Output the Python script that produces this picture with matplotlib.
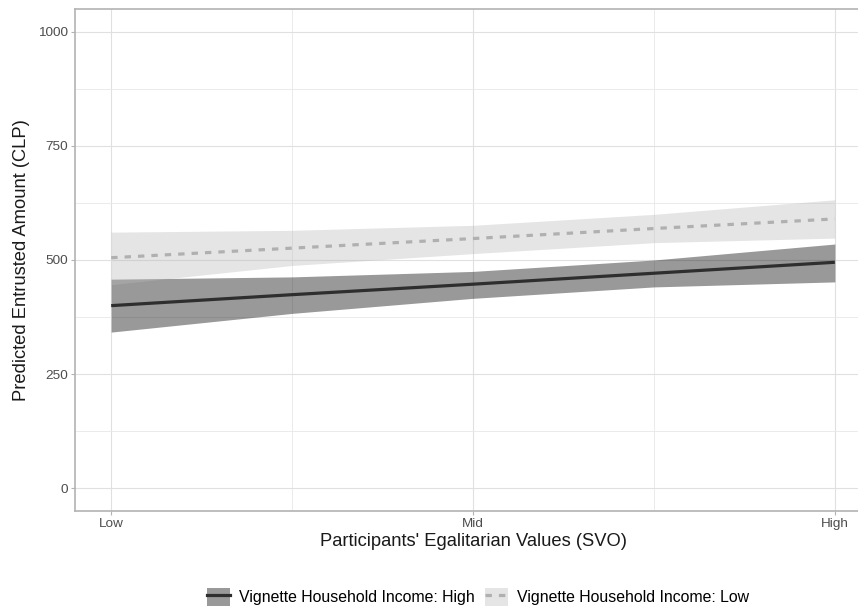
import matplotlib
matplotlib.use("Agg")
import matplotlib.pyplot as plt
from matplotlib.lines import Line2D
from matplotlib.patches import Patch

# predicted values along the SVO scale (0 = Low, 1 = Mid, 2 = High)
svo = [0, 0.5, 1, 1.5, 2]
svo_ticks = [0, 1, 2]
svo_labels = ["Low", "Mid", "High"]

high_fit = [400, 424, 447, 471, 495]
high_lo = [342, 383, 416, 441, 452]
high_hi = [458, 463, 475, 500, 535]

low_fit = [505, 526, 547, 569, 590]
low_lo = [446, 488, 514, 538, 548]
low_hi = [561, 565, 576, 600, 632]

series_labels = ["Vignette Household Income: High", "Vignette Household Income: Low"]

plt.rcParams["font.family"] = ["Liberation Sans", "DejaVu Sans"]

fig = plt.figure(figsize=(8.58, 6.10), dpi=100)
ax = fig.add_axes([75 / 858, 99 / 610, 796 / 858, 502 / 610])

ax.fill_between(svo, high_lo, high_hi, color="black", alpha=0.4, lw=0)
ax.fill_between(svo, low_lo, low_hi, color="#b9b9b9", alpha=0.37, lw=0)
ax.plot(svo, high_fit, color="#2e2e2e", lw=2.3, solid_capstyle="butt")
ax.plot(svo, low_fit, color="#b0b0b0", lw=2.3, dashes=(2, 2.2))

ax.set_xlim(-0.1, 2.1)
ax.set_ylim(-50, 1050)
ax.set_xticks(svo_ticks)
ax.set_xticklabels(svo_labels)
ax.set_xticks([0.5, 1.5], minor=True)
ax.set_yticks([0, 250, 500, 750, 1000])
ax.set_yticks([125, 375, 625, 875], minor=True)

ax.set_axisbelow(True)
ax.grid(True, which="major", color="#e0e0e0", lw=0.8)
ax.grid(True, which="minor", color="#e8e8e8", lw=0.6)
for sp in ax.spines.values():
    sp.set_color("#b3b3b3")
    sp.set_linewidth(1.2)

ax.tick_params(which="major", length=3, width=0.8, color="#b3b3b3",
               labelsize=9.7, labelcolor="#4d4d4d", pad=2)
ax.tick_params(which="minor", length=0)

ax.set_xlabel("Participants' Egalitarian Values (SVO)", fontsize=13.2,
              color="#1a1a1a", labelpad=2)
ax.set_ylabel("Predicted Entrusted Amount (CLP)", fontsize=13.2,
              color="#1a1a1a", labelpad=6)

handles = [
    (Patch(facecolor="#999999", edgecolor="none"),
     Line2D([], [], color="#2e2e2e", lw=2.3)),
    (Patch(facecolor="#e5e5e5", edgecolor="none"),
     Line2D([], [], color="#b0b0b0", lw=2.3, dashes=(2, 2.2))),
]
fig.legend(handles, series_labels, loc="center", ncol=2,
           bbox_to_anchor=(478 / 858, 1 - 597 / 610), frameon=False,
           fontsize=11.45, handlelength=1.45, handleheight=1.45,
           handletextpad=0.6, columnspacing=0.6)

fig.savefig("out.png", dpi=100)
